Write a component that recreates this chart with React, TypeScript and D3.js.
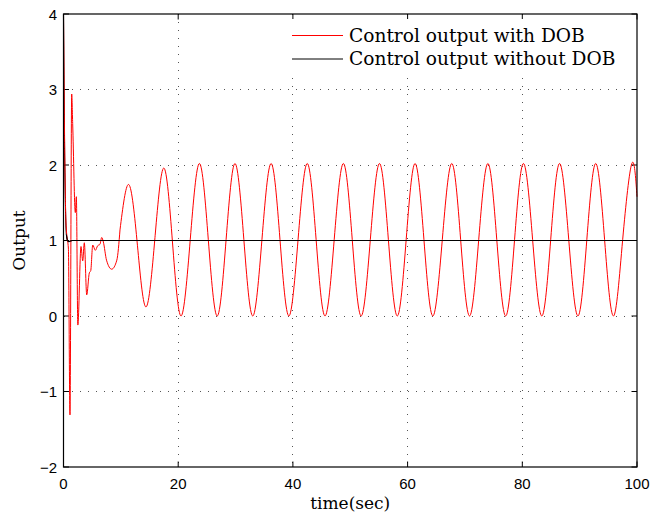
import React, { useEffect, useRef } from "react";
import * as d3 from "d3";

const xTicks = [0, 20, 40, 60, 80, 100];
const yTicks = [-2, -1, 0, 1, 2, 3, 4];
const xLabel = "time(sec)";
const yLabel = "Output";
const legendLabels = ["Control output with DOB", "Control output without DOB"];

// Red series: transient part (sharp)
const redTransT = [0, 0.2, 0.4, 0.6, 0.85, 1.13, 1.43, 1.6, 2.06, 2.24, 2.5, 3.05, 3.35, 3.63, 4.05, 4.5, 4.75, 5.1, 5.55, 5.95, 6.36, 6.66, 6.95, 7.5, 8.4, 9.3, 9.85];
const redTransV = [4.0, 2.3, 1.3, 1.05, 0.9, -1.31, 2.94, 2.55, 1.37, 1.58, -0.12, 0.92, 0.73, 0.97, 0.28, 0.57, 0.6, 0.94, 0.87, 0.93, 0.95, 1.04, 0.98, 0.74, 0.62, 0.74, 1.14];

// Red series: oscillation part (extrema and mid crossings)
const redOscT = [9.85, 11.4, 12.9, 14.4, 15.95, 17.5, 19.0, 20.5, 22.1, 23.7, 25.25, 26.8, 28.35, 29.9, 31.45, 33.0, 34.6, 36.2, 37.75, 39.3, 40.9, 42.5, 44.05, 45.6, 47.2, 48.8, 50.35, 51.9, 53.5, 55.1, 56.65, 58.2, 59.75, 61.3, 62.85, 64.4, 66.05, 67.7, 69.25, 70.8, 72.4, 74.0, 75.55, 77.1, 78.65, 80.2, 81.8, 83.4, 84.95, 86.5, 88.1, 89.7, 91.25, 92.8, 94.35, 95.9, 97.5, 99.1, 100];
const redOscV = [1.14, 1.74, 0.93, 0.12, 1.04, 1.96, 0.98, 0.0, 1.01, 2.02, 1.01, 0.0, 1.01, 2.02, 1.01, 0.0, 1.01, 2.02, 1.01, 0.0, 1.01, 2.02, 1.01, 0.0, 1.01, 2.02, 1.01, 0.0, 1.01, 2.02, 1.01, 0.0, 1.01, 2.02, 1.01, 0.0, 1.01, 2.02, 1.01, 0.0, 1.01, 2.02, 1.01, 0.0, 1.01, 2.02, 1.01, 0.0, 1.01, 2.02, 1.01, 0.0, 1.01, 2.02, 1.01, 0.0, 1.01, 2.02, 1.58];

// Black series
const blackT = [0, 0.1, 0.2, 0.35, 0.5, 0.7, 0.9, 1.5, 100];
const blackV = [4.0, 2.9, 2.1, 1.4, 1.08, 1.0, 0.985, 1.0, 1.0];

const W = 653, H = 515;
const M = { left: 63.5, right: 637, top: 14, bottom: 467 };

export default function App() {
  const ref = useRef<SVGSVGElement>(null);
  useEffect(() => {
    const svg = d3.select(ref.current);
    svg.selectAll("*").remove();
    const x = d3.scaleLinear().domain([0, 100]).range([M.left, M.right]);
    const y = d3.scaleLinear().domain([-2, 4]).range([M.bottom, M.top]);

    svg.append("rect").attr("width", W).attr("height", H).attr("fill", "#fff");

    // grid
    const g = svg.append("g");
    xTicks.slice(1, -1).forEach((t) => {
      g.append("line").attr("x1", x(t)).attr("x2", x(t)).attr("y1", M.top).attr("y2", M.bottom)
        .attr("stroke", "#555").attr("stroke-width", 1).attr("stroke-dasharray", "1,7").attr("shape-rendering", "crispEdges");
    });
    yTicks.slice(1, -1).forEach((t) => {
      g.append("line").attr("y1", y(t)).attr("y2", y(t)).attr("x1", M.left).attr("x2", M.right)
        .attr("stroke", "#555").attr("stroke-width", 1).attr("stroke-dasharray", "1,7").attr("shape-rendering", "crispEdges");
    });

    // ticks (all four sides, inward)
    const tl = 5.5;
    xTicks.forEach((t) => {
      g.append("line").attr("x1", x(t)).attr("x2", x(t)).attr("y1", M.bottom).attr("y2", M.bottom - tl).attr("stroke", "#000");
      g.append("line").attr("x1", x(t)).attr("x2", x(t)).attr("y1", M.top).attr("y2", M.top + tl).attr("stroke", "#000");
    });
    yTicks.forEach((t) => {
      g.append("line").attr("y1", y(t)).attr("y2", y(t)).attr("x1", M.left).attr("x2", M.left + tl).attr("stroke", "#000");
      g.append("line").attr("y1", y(t)).attr("y2", y(t)).attr("x1", M.right).attr("x2", M.right - tl).attr("stroke", "#000");
    });

    // lines
    const lineLin = d3.line<[number, number]>().x((d) => x(d[0])).y((d) => y(d[1])).curve(d3.curveMonotoneX);
    const lineNat = d3.line<[number, number]>().x((d) => x(d[0])).y((d) => y(d[1])).curve(d3.curveNatural);
    const plot = svg.append("g");
    plot.append("path").attr("d", lineLin(blackT.map((t, i) => [t, blackV[i]]) as any)!)
      .attr("fill", "none").attr("stroke", "#000").attr("stroke-width", 1.1);
    plot.append("path").attr("d", lineLin(redTransT.map((t, i) => [t, redTransV[i]]) as any)!)
      .attr("fill", "none").attr("stroke", "#ff0000").attr("stroke-width", 1);
    plot.append("path").attr("d", lineNat(redOscT.map((t, i) => [t, redOscV[i]]) as any)!)
      .attr("fill", "none").attr("stroke", "#ff0000").attr("stroke-width", 1);
    // redraw black over red
    plot.append("path").attr("d", lineLin(blackT.slice(4).map((t, i) => [t, blackV[i + 4]]) as any)!)
      .attr("fill", "none").attr("stroke", "#000").attr("stroke-width", 1.1);

    // legend
    const lg = svg.append("g");
    lg.append("rect").attr("x", 285).attr("y", 19).attr("width", M.right - 285 - 1).attr("height", 55).attr("fill", "#fff");
    const colors = ["#ff0000", "#000"];
    const rowY = [35.5, 59];
    legendLabels.forEach((lab, i) => {
      lg.append("line").attr("x1", 292).attr("x2", 343).attr("y1", rowY[i]).attr("y2", rowY[i]).attr("stroke", colors[i]).attr("stroke-width", 1);
      lg.append("text").attr("x", 349).attr("y", rowY[i] + 6).text(lab)
        .attr("font-family", "DejaVu Serif").attr("font-size", 18.6).attr("fill", "#000");
    });

    // box
    svg.append("rect").attr("x", M.left).attr("y", M.top).attr("width", M.right - M.left).attr("height", M.bottom - M.top)
      .attr("fill", "none").attr("stroke", "#000").attr("stroke-width", 1.2);

    // tick labels
    const fontSans = "Liberation Sans, Arial, sans-serif";
    xTicks.forEach((t) => {
      svg.append("text").attr("x", x(t)).attr("y", 489).attr("text-anchor", "middle").text(String(t))
        .attr("font-family", fontSans).attr("font-size", 15);
    });
    yTicks.forEach((t) => {
      svg.append("text").attr("x", 57).attr("y", y(t) + 5.5).attr("text-anchor", "end").text(t < 0 ? "\u2212" + Math.abs(t) : String(t))
        .attr("font-family", fontSans).attr("font-size", 15);
    });

    // axis labels
    svg.append("text").attr("x", (M.left + M.right) / 2).attr("y", 509).attr("text-anchor", "middle").text(xLabel)
      .attr("font-family", "DejaVu Serif").attr("font-size", 17);
    svg.append("text").attr("transform", `translate(25,${y(1)}) rotate(-90)`).attr("text-anchor", "middle").text(yLabel)
      .attr("font-family", "DejaVu Serif").attr("font-size", 17);
  }, []);
  return (
    <svg ref={ref} width={W} height={H} style={{ position: "absolute", left: 0, top: 0 }} />
  );
}
